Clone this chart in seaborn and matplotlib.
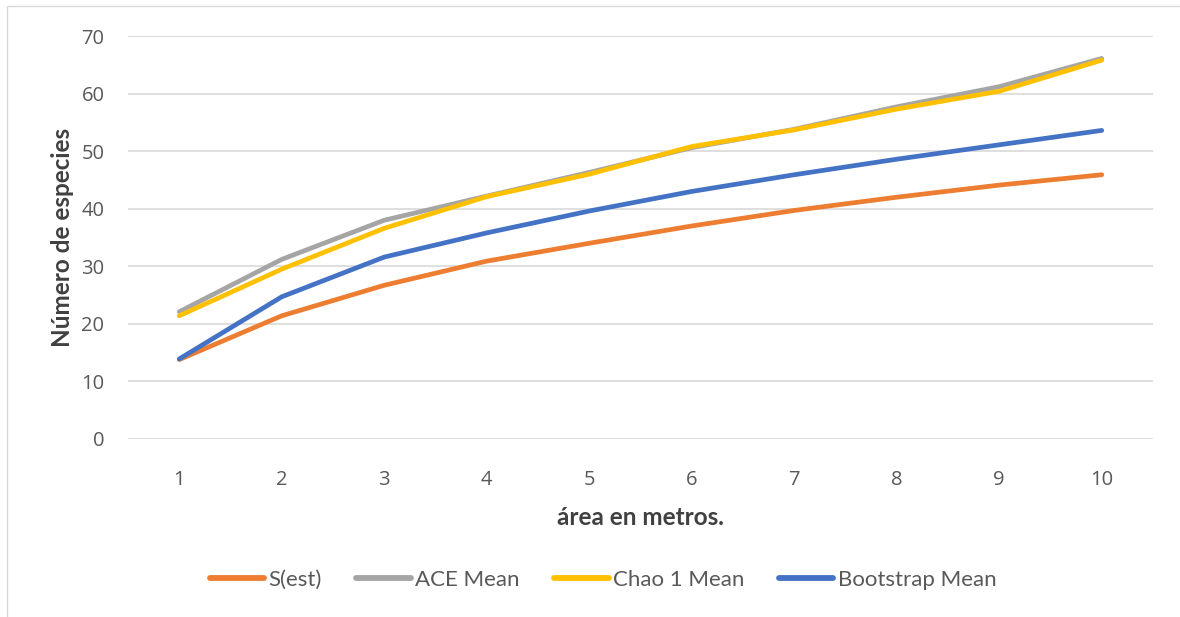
import matplotlib
matplotlib.use("Agg")
import matplotlib.pyplot as plt
from matplotlib.patches import Rectangle
import seaborn as sns
import pandas as pd

# Species accumulation estimates by sampled area
area = [1, 2, 3, 4, 5, 6, 7, 8, 9, 10]
s_est = [13.8, 21.4, 26.7, 30.9, 34.0, 37.0, 39.7, 42.0, 44.1, 45.9]
ace_mean = [22.1, 31.2, 38.0, 42.2, 46.3, 50.6, 53.8, 57.7, 61.2, 66.1]
chao1_mean = [21.4, 29.5, 36.6, 42.1, 46.0, 50.8, 53.7, 57.3, 60.4, 65.8]
bootstrap_mean = [13.9, 24.7, 31.6, 35.8, 39.6, 43.0, 45.9, 48.6, 51.1, 53.6]

series_names = ["S(est)", "ACE Mean", "Chao 1 Mean", "Bootstrap Mean"]
series_values = [s_est, ace_mean, chao1_mean, bootstrap_mean]
colors = ["#ED7D31", "#A5A5A5", "#FFC000", "#4472C4"]
y_ticks = [0, 10, 20, 30, 40, 50, 60, 70]

df = pd.DataFrame(
    [(a, name, v) for name, vals in zip(series_names, series_values) for a, v in zip(area, vals)],
    columns=["area", "serie", "especies"],
)

sns.set_theme(style="white")
plt.rcParams["font.family"] = ["Lato", "DejaVu Sans"]

W, H = 1180, 617
fig = plt.figure(figsize=(W / 100, H / 100), dpi=100)
fig.patch.set_facecolor("white")

# Chart frame
fig.patches.append(Rectangle((7 / W, -0.05), 1.2, 1 - 6 / H + 0.05, transform=fig.transFigure,
                             fill=False, edgecolor="#D9D9D9", linewidth=1.0, zorder=0))

left, right, top, bottom = 128, 1153, 36, 439
ax = fig.add_axes([left / W, 1 - bottom / H, (right - left) / W, (bottom - top) / H])

sns.lineplot(data=df, x="area", y="especies", hue="serie", hue_order=series_names,
             palette=colors, linewidth=3.4, ax=ax, legend=True,
             solid_capstyle="round", solid_joinstyle="round")

ax.set_xlim(0.5, 10.5)
ax.set_ylim(0, 70)
ax.set_xticks(area)
ax.set_yticks(y_ticks)
ax.yaxis.grid(True, color="#D9D9D9", linewidth=1.2)
ax.xaxis.grid(False)
ax.set_axisbelow(True)
for sp in ax.spines.values():
    sp.set_visible(False)
ax.tick_params(axis="both", length=0, labelsize=14.5, labelcolor="#595959")
ax.tick_params(axis="y", pad=17)
ax.tick_params(axis="x", pad=22)
for lab in ax.get_xticklabels() + ax.get_yticklabels():
    lab.set_family(["Open Sans", "DejaVu Sans"])

ax.set_xlabel("área en metros.", fontsize=17.5, fontweight="bold", color="#404040", labelpad=12)
ax.set_ylabel("Número de especies", fontsize=17.5, fontweight="bold", color="#404040", labelpad=5)

handles, labels = ax.get_legend_handles_labels()
ax.legend_.remove()
for h in handles:
    h.set_linewidth(4.2)
    h.set_solid_capstyle("round")
fig.legend(handles, labels, loc="center", bbox_to_anchor=(603 / W, 1 - 580 / H), ncol=4,
           frameon=False, fontsize=16, labelcolor="#595959", handlelength=2.45,
           handletextpad=0.2, columnspacing=1.55)

fig.savefig("out.png", dpi=100, facecolor="white")
